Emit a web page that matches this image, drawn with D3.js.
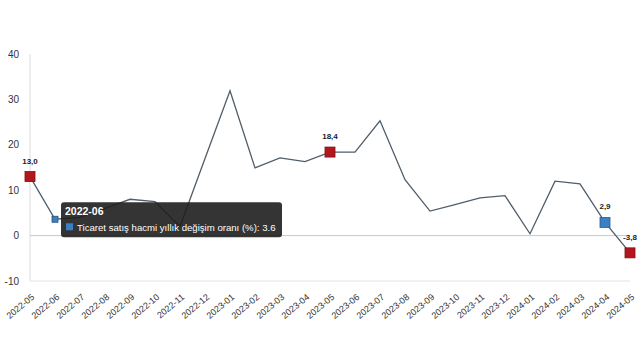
<!DOCTYPE html>
<html>
<head>
<meta charset="utf-8">
<script src="https://cdn.jsdelivr.net/npm/d3@7"></script>
<style>
  body { margin: 0; background: #fff; }
  text { font-family: "Liberation Sans", Arial, sans-serif; }
</style>
</head>
<body>
<div id="figure-container"></div>
<script>
// months on the x axis
const months = ['2022-05','2022-06','2022-07','2022-08','2022-09','2022-10','2022-11','2022-12',
  '2023-01','2023-02','2023-03','2023-04','2023-05','2023-06','2023-07','2023-08','2023-09',
  '2023-10','2023-11','2023-12','2024-01','2024-02','2024-03','2024-04','2024-05'];
// yearly change of trade sales volume (%)
const values = [13.0, 3.6, 4.0, 6.0, 8.0, 7.5, 2.0, 17.0,
  31.9, 14.9, 17.1, 16.3, 18.4, 18.4, 25.3, 12.3, 5.4,
  6.8, 8.3, 8.8, 0.4, 12.0, 11.4, 2.9, -3.8];
const yTicks = [-10, 0, 10, 20, 30, 40];
// highlighted points (indexes)
const redPoints = [0, 12, 24];
const bluePoints = [23];
const hoverIndex = 1;
const seriesName = 'Ticaret satış hacmi yıllık değişim oranı (%)';

const width = 640, height = 350;
const margin = {top: 54, right: 10, bottom: 69, left: 30};

let data = months.map((m, i) => ({month: m, value: values[i], i: i}));

let xScale = d3.scalePoint()
  .domain(months)
  .range([margin.left, width - margin.right]);

let yScale = d3.scaleLinear()
  .domain([-10, 40])
  .range([height - margin.bottom, margin.top]);

let svg = d3.select('#figure-container')
  .append('svg')
  .attr('width', width)
  .attr('height', height);

// y axis line + labels
svg.append('line')
  .attr('x1', margin.left).attr('x2', margin.left)
  .attr('y1', yScale(40)).attr('y2', yScale(-10))
  .attr('stroke', '#dcdcdc');

svg.append('g')
  .selectAll('text')
  .data(yTicks)
  .enter()
    .append('text')
    .attr('x', 19)
    .attr('y', d => yScale(d))
    .attr('dy', '0.35em')
    .attr('text-anchor', 'end')
    .style('font-size', '10px')
    .attr('fill', '#333')
    .text(d => d);

// zero line and bottom line
svg.append('line')
  .attr('x1', margin.left).attr('x2', width - margin.right)
  .attr('y1', yScale(0)).attr('y2', yScale(0))
  .attr('stroke', '#c8c8c8');
svg.append('line')
  .attr('x1', margin.left).attr('x2', width - margin.right)
  .attr('y1', yScale(-10)).attr('y2', yScale(-10))
  .attr('stroke', '#e2e2e2');

// x labels
svg.append('g')
  .selectAll('text')
  .data(months)
  .enter()
    .append('text')
    .attr('transform', d => `translate(${xScale(d) + 5},${yScale(-10) + 17}) rotate(-40)`)
    .attr('text-anchor', 'end')
    .style('font-size', '9px')
    .attr('fill', '#333')
    .text(d => d);

// the line
let line = d3.line()
  .x(d => xScale(d.month))
  .y(d => yScale(d.value));

svg.append('path')
  .datum(data)
  .attr('d', line)
  .attr('fill', 'none')
  .attr('stroke', '#4f5e6a')
  .attr('stroke-width', 1.3);

// markers
let fmt = v => v.toFixed(1).replace('.', ',');
let marked = redPoints.map(i => ({d: data[i], fill: '#b3161c', stroke: '#7d0f13'}))
  .concat(bluePoints.map(i => ({d: data[i], fill: '#3a80c2', stroke: '#2a5d8f'})));

let mk = svg.append('g')
  .selectAll('g')
  .data(marked)
  .enter()
    .append('g')
    .attr('transform', m => `translate(${xScale(m.d.month)},${yScale(m.d.value)})`);

mk.append('rect')
  .attr('x', -5).attr('y', -5)
  .attr('width', 10).attr('height', 10)
  .attr('fill', m => m.fill)
  .attr('stroke', m => m.stroke)
  .attr('stroke-width', 0.8);

mk.append('text')
  .attr('x', 0)
  .attr('y', -13)
  .attr('text-anchor', 'middle')
  .style('font-size', '8px')
  .style('font-weight', 'bold')
  .attr('fill', '#222')
  .text(m => fmt(m.d.value));

// hovered point (small)
let hp = data[hoverIndex];
svg.append('rect')
  .attr('x', xScale(hp.month) - 3)
  .attr('y', yScale(hp.value) - 3)
  .attr('width', 6).attr('height', 6)
  .attr('fill', '#3a80c2')
  .attr('stroke', '#2a4f75')
  .attr('stroke-width', 0.8);

// tooltip
let tip = svg.append('g')
  .attr('transform', `translate(${xScale(hp.month) + 6},${yScale(hp.value) - 17})`);

let tipText = `${seriesName}: ${hp.value}`;

tip.append('rect')
  .attr('width', 221)
  .attr('height', 35)
  .attr('rx', 3)
  .attr('fill', '#1e1e1e')
  .attr('fill-opacity', 0.9);

tip.append('text')
  .attr('x', 4)
  .attr('y', 13)
  .style('font-size', '10.5px')
  .style('font-weight', 'bold')
  .attr('fill', '#fff')
  .text(hp.month);

tip.append('rect')
  .attr('x', 5).attr('y', 21)
  .attr('width', 7).attr('height', 7)
  .attr('fill', '#3a80c2');

tip.append('text')
  .attr('x', 16)
  .attr('y', 28.5)
  .style('font-size', '9.6px')
  .attr('fill', '#fff')
  .text(tipText);
</script>
</body>
</html>
